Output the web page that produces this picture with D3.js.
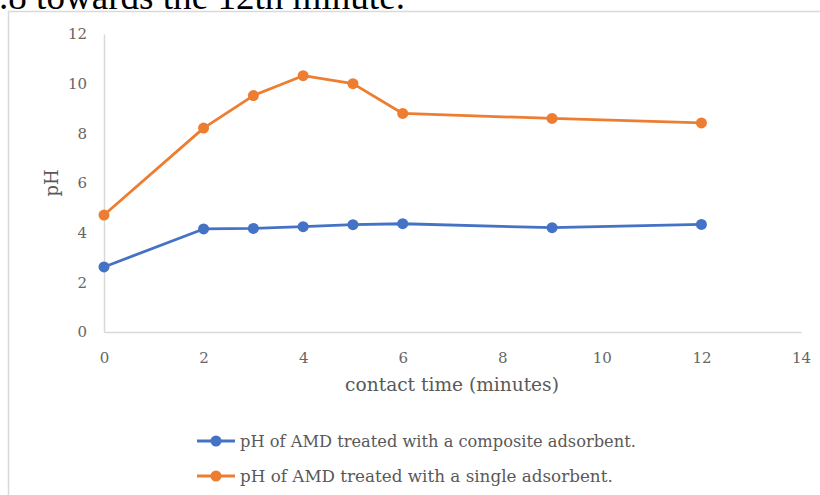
<!DOCTYPE html>
<html><head><meta charset="utf-8">
<script src="https://cdn.jsdelivr.net/npm/d3@7"></script>
<style>html,body{margin:0;padding:0;background:#fff;overflow:hidden}</style>
</head><body>
<svg id="c" width="820" height="495"></svg>
<script>
const times = [0, 2, 3, 4, 5, 6, 9, 12];
const composite = [2.62, 4.15, 4.17, 4.24, 4.32, 4.36, 4.2, 4.33];
const single = [4.71, 8.21, 9.52, 10.32, 10.0, 8.8, 8.6, 8.42];
const xTicks = [0, 2, 4, 6, 8, 10, 12, 14];
const yTicks = [0, 2, 4, 6, 8, 10, 12];
const seriesNames = ["pH of AMD treated with a composite adsorbent.", "pH of AMD treated with a single adsorbent."];
const colors = ["#4472c4", "#ed7d31"];
const serif = "'DejaVu Serif','Liberation Serif',serif";
const docSerif = "'Liberation Serif','DejaVu Serif',serif";

const svg = d3.select("#c");
function fit(sel, base, target) {
  const w = sel.node().getComputedTextLength();
  sel.attr("font-size", base * target / w);
}
// cut-off document text above the chart
const docText = svg.append("text").attr("x", -1).attr("y", 9).attr("font-family", docSerif)
  .attr("font-size", 30).attr("fill", "#000").text(".8 towards the 12th minute.");
fit(docText, 30, 406);

// chart frame
svg.append("path").attr("d", "M8.5,495 V11.5 H820").attr("fill", "none").attr("stroke", "#d9d9d9").attr("stroke-width", 1.5);

const x = d3.scaleLinear().domain([0, 14]).range([104, 801]);
const y = d3.scaleLinear().domain([0, 12]).range([332, 34]);

const gx = svg.append("g").attr("transform", "translate(0,332)")
  .call(d3.axisBottom(x).tickValues(xTicks).tickSize(0).tickPadding(20));
const gy = svg.append("g").attr("transform", "translate(104,0)")
  .call(d3.axisLeft(y).tickValues(yTicks).tickSize(0).tickPadding(17));
[gx, gy].forEach(g => {
  g.select(".domain").attr("stroke", "#d9d9d9").attr("stroke-width", 1.5);
  g.selectAll("text").attr("font-family", serif).attr("font-size", 15).attr("fill", "#666")
    .attr("font-weight", 300);
});

const xt = svg.append("text").attr("x", 452).attr("y", 391).attr("text-anchor", "middle")
  .attr("font-family", serif).attr("font-size", 16).attr("fill", "#595959").text("contact time (minutes)");
fit(xt, 16, 214);
svg.append("text").attr("transform", "translate(58,183) rotate(-90)").attr("text-anchor", "middle")
  .attr("font-family", serif).attr("font-size", 18).attr("fill", "#595959").text("pH");

const line = d3.line().x((d, i) => x(times[i])).y(d => y(d));
[composite, single].forEach((s, k) => {
  svg.append("path").datum(s).attr("d", line).attr("fill", "none")
    .attr("stroke", colors[k]).attr("stroke-width", 2.8).attr("stroke-linejoin", "round");
  svg.selectAll(null).data(s).enter().append("circle")
    .attr("cx", (d, i) => x(times[i])).attr("cy", d => y(d)).attr("r", 5.5).attr("fill", colors[k]);
});

// legend
seriesNames.forEach((n, k) => {
  const ly = 441 + k * 35;
  svg.append("line").attr("x1", 197).attr("x2", 235).attr("y1", ly).attr("y2", ly)
    .attr("stroke", colors[k]).attr("stroke-width", 2.8);
  svg.append("circle").attr("cx", 216).attr("cy", ly).attr("r", 5.5).attr("fill", colors[k]);
  const t = svg.append("text").attr("x", 240).attr("y", ly + 5.5).attr("font-family", serif)
    .attr("font-size", 15).attr("fill", "#595959").text(n);
  if (k === 0) fit(t, 15, 396);
  else fit(t, 15, 373);
});
</script>
</body></html>
